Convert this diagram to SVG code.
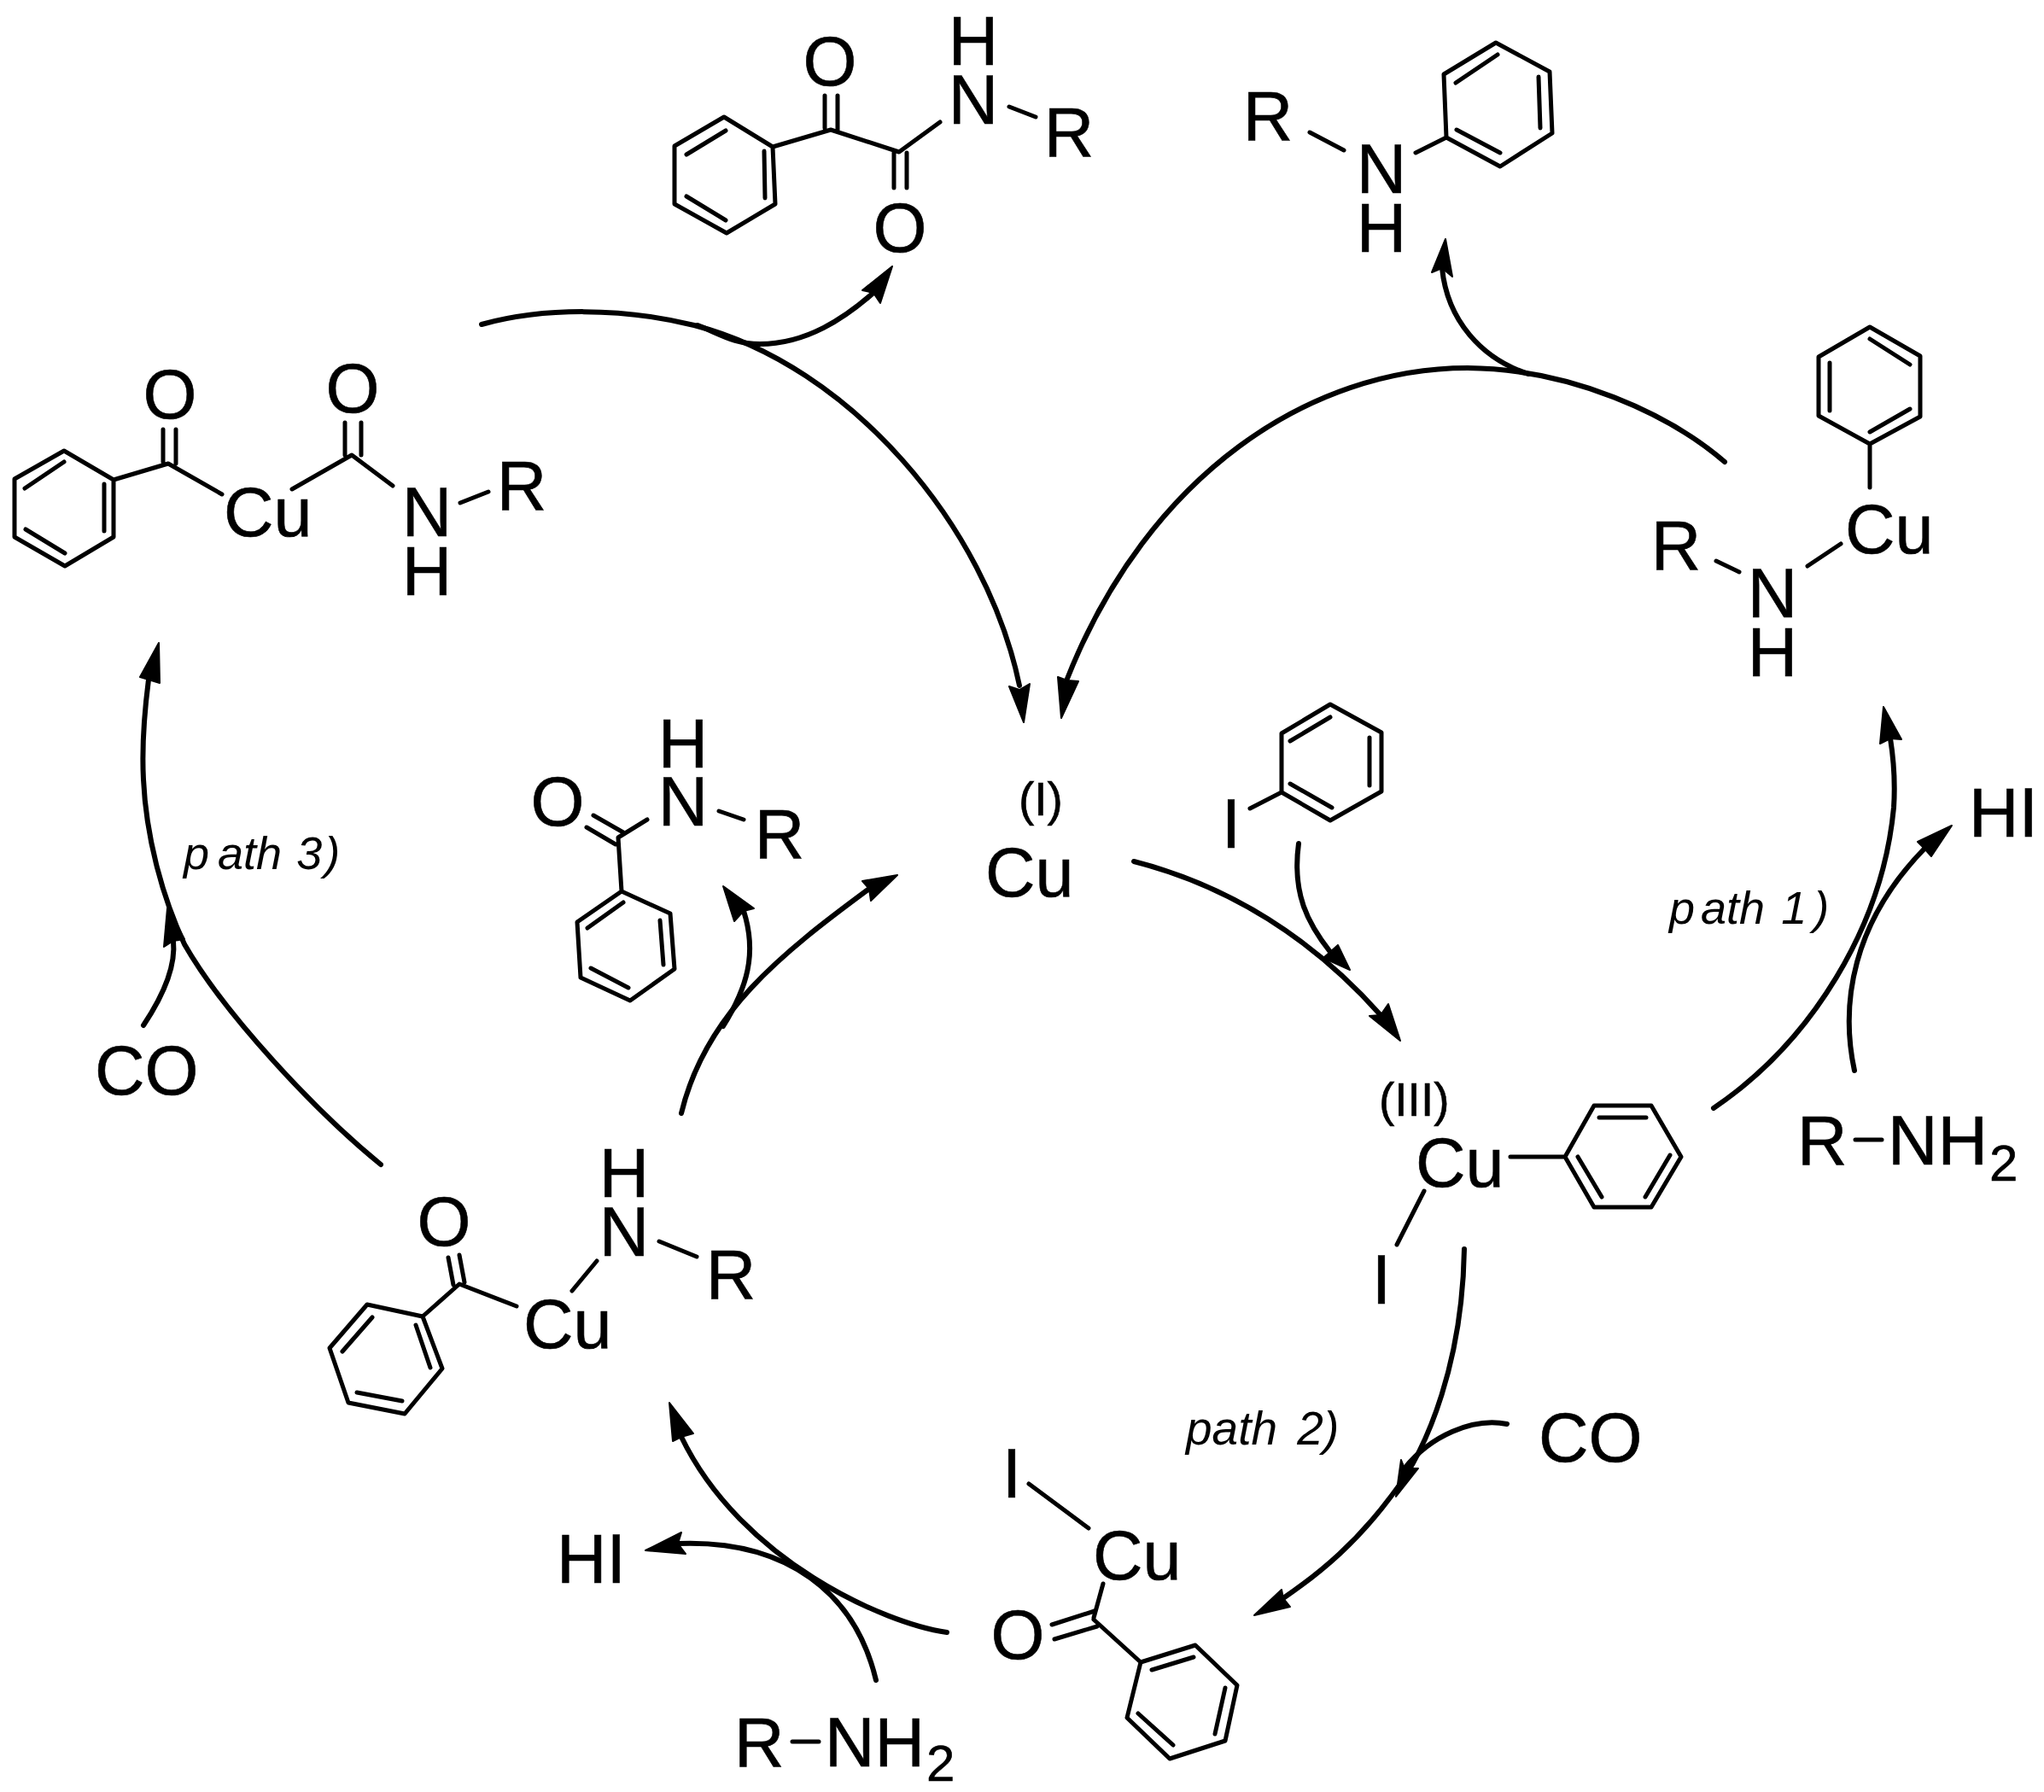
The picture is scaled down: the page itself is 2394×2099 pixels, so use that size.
<svg xmlns="http://www.w3.org/2000/svg" width="2394" height="2099" viewBox="0 0 2394 2099">
<style>
text{font-family:"Liberation Sans",Arial,sans-serif;font-size:81px;fill:#000;stroke:#000;stroke-width:.6}
.m{text-anchor:middle}
.s{font-size:55px}
.sub{font-size:60px}
.i{font-size:54px;font-style:italic;stroke-width:0}
.b{fill:none;stroke:#000;stroke-width:5;stroke-linecap:round;stroke-linejoin:round}
.a{fill:none;stroke:#000;stroke-width:6;stroke-linecap:round}
.h{fill:#000;stroke:#000;stroke-width:2;stroke-linejoin:round}
</style>
<rect width="2394" height="2099" fill="#fff"/>
<g id="connectors">
<path class="a" d="M564,380C637,360 727,360 813,381C995,428 1155,615 1194,803"/>
<polygon class="h" points="1199,846 1182,804 1194,808 1206,801"/>
<path class="a" d="M817,381C845,392 860,403 890,403C945,403 990,372 1023,343"/>
<polygon class="h" points="1045,312 1010,340 1023,343 1031,355"/>
<path class="a" d="M2020,541C1955,485 1840,432 1719,431C1535,431 1345,555 1250,795"/>
<polygon class="h" points="1243,841 1239,793 1250,797 1263,798"/>
<path class="a" d="M1790,438C1735,420 1695,375 1689,314"/>
<polygon class="h" points="1693,280 1677,319 1689,314 1701,324"/>
<path class="a" d="M446,1364C370,1302 263,1188 216,1106C189,1048 171,978 168,913C166,875 169,835 174,796"/>
<polygon class="h" points="186,753 164,793 174,796 187,800"/>
<path class="a" d="M168,1201C194,1162 206,1130 203,1102"/>
<polygon class="h" points="196,1064 192,1109 203,1102 216,1100"/>
<path class="a" d="M798,1304C826,1187 915,1117 1018,1041"/>
<polygon class="h" points="1051,1025 1010,1032 1018,1041 1020,1055"/>
<path class="a" d="M847,1202C875,1157 887,1117 871,1067"/>
<polygon class="h" points="847,1038 860,1079 871,1067 883,1064"/>
<path class="a" d="M1328,1009C1437,1037 1535,1097 1617,1189"/>
<polygon class="h" points="1640,1219 1604,1190 1617,1189 1626,1176"/>
<path class="a" d="M1521,988C1513,1047 1532,1082 1558,1115"/>
<polygon class="h" points="1581,1136 1567,1107 1558,1115 1550,1122"/>
<path class="a" d="M2007,1298C2122,1220 2205,1085 2218,946C2220,915 2218,890 2214,865"/>
<polygon class="h" points="2206,828 2202,871 2214,865 2227,866"/>
<path class="a" d="M2172,1254C2155,1175 2170,1080 2254,994"/>
<polygon class="h" points="2286,967 2246,986 2254,994 2262,1003"/>
<path class="a" d="M1715,1463C1713,1590 1675,1695 1629,1753C1590,1805 1550,1840 1503,1872"/>
<polygon class="h" points="1469,1892 1501,1862 1503,1872 1511,1882"/>
<path class="a" d="M1765,1668C1725,1660 1675,1682 1645,1720"/>
<polygon class="h" points="1635,1753 1641,1710 1645,1720 1661,1720"/>
<path class="a" d="M1109,1912C1037,1902 868,1828 798,1683"/>
<polygon class="h" points="784,1643 788,1688 798,1683 812,1679"/>
<path class="a" d="M1026,1968C1002,1867 923,1803 794,1808"/>
<polygon class="h" points="756,1816 798,1795 794,1808 803,1820"/>
</g>
<g id="product-ketoamide">
<path class="b" d="M848,137L905,172L908,239L851,273L790,239L790,171ZM850,153L804,181M895,177L896,232M850,258L804,230M905,172L973,152L1053,178L1101,143M966,112L966,150M981,112L981,152M1047,179L1047,220M1062,179L1062,220M1182,125L1213,137"/>
<text class="m" x="972" y="100">O</text><text class="m" x="1054" y="295">O</text><text class="m" x="1140" y="76">H</text><text class="m" x="1140" y="145">N</text><text class="m" x="1252" y="183">R</text>
</g>
<g id="product-amine">
<path class="b" d="M1694,161L1757,195L1818,156L1815,84L1752,50L1691,87ZM1706,152L1757,179M1804,150L1802,90M1754,64L1705,97M1534,155L1574,176M1658,179L1694,161"/>
<text class="m" x="1485" y="164">R</text><text class="m" x="1618" y="226">N</text><text class="m" x="1618" y="295">H</text>
</g>
<g id="complex-phenyl-amido">
<path class="b" d="M2190,383L2249,417L2249,488L2190,520L2130,487L2130,418ZM2190,397L2237,427M2143,425L2143,481M2237,479L2190,506M2190,520L2190,571M2010,657L2037,670M2117,663L2156,637"/>
<text x="2161" y="648">Cu</text><text class="m" x="1963" y="667">R</text><text class="m" x="2076" y="723">N</text><text class="m" x="2076" y="792">H</text>
</g>
<g id="complex-ketoacyl">
<path class="b" d="M75,528L133,562L133,629L76,663L17,629L17,561ZM75,541L29,572M122,567L122,622M76,648L30,620M133,562L197,543L260,579M191,503L191,541M206,503L206,543M342,573L412,533L460,569M404,495L404,533M423,495L423,533M539,589L572,576"/>
<text class="m" x="199" y="490">O</text><text class="m" x="413" y="483">O</text><text x="262" y="628">Cu</text><text class="m" x="500" y="628">N</text><text class="m" x="500" y="697">H</text><text class="m" x="611" y="597">R</text>
</g>
<g id="copper-I">
<text class="s" x="1193" y="955">(I)</text><text x="1154" y="1050">Cu</text>
</g>
<g id="product-amide">
<path class="b" d="M728,1044L785,1070L790,1135L738,1172L680,1145L676,1080ZM730,1057L688,1087M773,1078L777,1130M736,1157L692,1134M728,1044L724,981L758,960M695,955L730,975M687,969L721,989M842,950L871,960"/>
<text class="m" x="653" y="967">O</text><text class="m" x="800" y="899">H</text><text class="m" x="800" y="967">N</text><text class="m" x="913" y="1005">R</text>
</g>
<g id="iodobenzene">
<path class="b" d="M1558,825L1618,858L1618,927L1558,961L1501,928L1501,859ZM1558,840L1511,868M1604,864L1604,920M1560,946L1511,918M1501,928L1464,947"/>
<text class="m" x="1442" y="993">I</text>
</g>
<g id="copper-III">
<path class="b" d="M1833,1355L1867,1295L1934,1295L1969,1355L1934,1414L1867,1414ZM1873,1309L1928,1309M1956,1353L1927,1402M1848,1355L1876,1402M1769,1355L1833,1355M1668,1395L1636,1458"/>
<text class="s" x="1615" y="1307">(III)</text><text x="1658" y="1390">Cu</text><text class="m" x="1618" y="1527">I</text>
</g>
<g id="reagent-right">
<path class="b" d="M2173,1335L2204,1335"/>
<text x="2105" y="1364">R</text><text x="2211" y="1364">NH</text><text class="sub" x="2330" y="1383">2</text>
<text x="2306" y="980">HI</text>
</g>
<g id="label-path1"><text class="i" x="1955" y="1082">p<tspan dx="7">ath</tspan><tspan dx="4"> 1</tspan><tspan dx="8">)</tspan></text></g>
<g id="label-path2"><text class="i" style="font-size:55px" x="1389" y="1692">path<tspan dx="8"> 2)</tspan></text></g>
<g id="label-path3"><text class="i" x="215" y="1018">p<tspan dx="10">ath</tspan><tspan dx="2"> 3</tspan><tspan dx="3">)</tspan></text></g>
<g id="co-right"><text x="1802" y="1712">CO</text></g>
<g id="co-left"><text x="111" y="1282">CO</text></g>
<g id="complex-acyl-iodide">
<path class="b" d="M1336,1947L1400,1927L1449,1974L1435,2039L1370,2060L1320,2012ZM1349,1956L1398,1941M1435,1977L1423,2031M1374,2044L1333,2007M1281,1897L1336,1947M1281,1895L1292,1855M1232,1903L1282,1887M1235,1920L1285,1905M1205,1738L1275,1790"/>
<text class="m" x="1185" y="1754">I</text><text x="1280" y="1850">Cu</text><text class="m" x="1192" y="1943">O</text>
</g>
<g id="reagent-bottom">
<path class="b" d="M928,2040L959,2040"/>
<text x="860" y="2069">R</text><text x="966" y="2069">NH</text><text class="sub" x="1085" y="2086">2</text>
<text x="652" y="1854">HI</text>
</g>
<g id="complex-acyl-amido">
<path class="b" d="M495,1542L518,1603L474,1656L408,1643L386,1579L430,1528ZM487,1552L504,1602M471,1641L418,1631M401,1583L436,1543M495,1542L538,1504L605,1530M525,1473L531,1505M538,1470L544,1502M670,1512L699,1477M772,1454L816,1472"/>
<text class="m" x="520" y="1459">O</text><text x="613" y="1579">Cu</text><text class="m" x="731" y="1402">H</text><text class="m" x="731" y="1471">N</text><text class="m" x="856" y="1521">R</text>
</g>
</svg>
